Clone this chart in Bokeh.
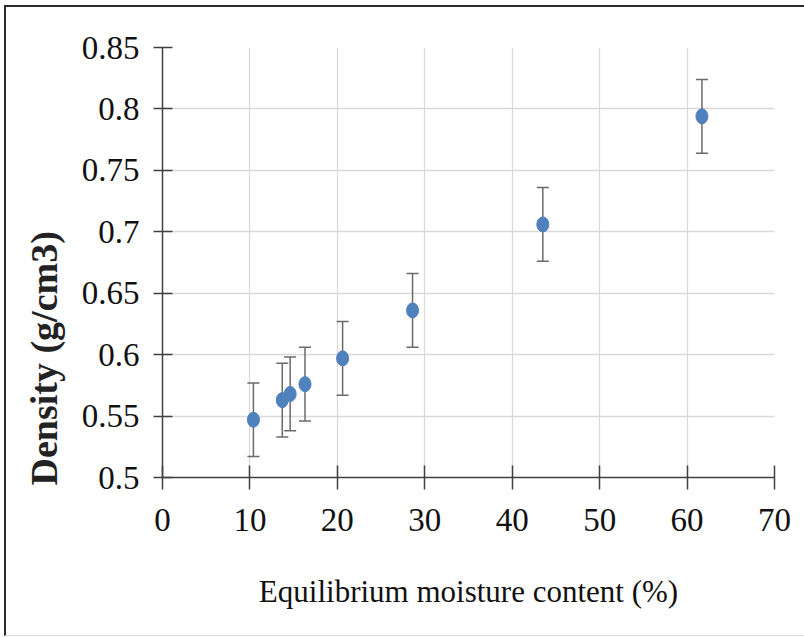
from bokeh.plotting import figure
from bokeh.models import ColumnDataSource, Whisker, TeeHead, FixedTicker, Title
from bokeh.embed import file_html
from bokeh.resources import INLINE

# data
moisture = [10.4, 13.7, 14.6, 16.3, 20.6, 28.6, 43.5, 61.7]
density = [0.547, 0.563, 0.568, 0.576, 0.597, 0.636, 0.706, 0.794]
err = [0.03, 0.03, 0.03, 0.03, 0.03, 0.03, 0.03, 0.03]
x_ticks = [0, 10, 20, 30, 40, 50, 60, 70]
y_ticks = [0.5, 0.55, 0.6, 0.65, 0.7, 0.75, 0.8, 0.85]
y_tick_labels = ["0.5", "0.55", "0.6", "0.65", "0.7", "0.75", "0.8", "0.85"]

src = ColumnDataSource(dict(
    x=moisture, y=density,
    lo=[d - e for d, e in zip(density, err)],
    hi=[d + e for d, e in zip(density, err)],
))

FONT = "Liberation Serif"

p = figure(width=798, height=628, frame_width=612, frame_height=430,
           min_border_left=155, min_border_right=31, min_border_top=40, min_border_bottom=158,
           x_range=(0, 70), y_range=(0.5, 0.85),
           output_backend="svg", toolbar_location=None)
p.styles = {"margin-left": "4px", "margin-top": "5px",
            "border-left": "2px solid #2b2b2b", "border-top": "2px solid #2b2b2b",
            "border-bottom": "1px solid #dcdcdc"}
p.outline_line_color = None

p.xgrid.ticker = FixedTicker(ticks=x_ticks)
p.ygrid.ticker = FixedTicker(ticks=y_ticks)
p.xgrid.grid_line_color = "#d9d9d9"
p.ygrid.grid_line_color = "#d9d9d9"
p.xgrid.grid_line_width = 1.3
p.ygrid.grid_line_width = 1.3

for ax in (p.xaxis[0], p.yaxis[0]):
    ax.axis_line_color = "#404040"
    ax.axis_line_width = 1.5
    ax.major_tick_line_color = "#404040"
    ax.major_tick_line_width = 1.5
    ax.minor_tick_line_color = None
    ax.major_label_text_font = FONT
    ax.major_label_text_font_size = "33px"
    ax.major_label_text_color = "#111111"

p.xaxis.ticker = FixedTicker(ticks=x_ticks)
p.yaxis.ticker = FixedTicker(ticks=y_ticks)
p.yaxis.major_label_overrides = {t: s for t, s in zip(y_ticks, y_tick_labels)}
p.xaxis.major_tick_in = 12
p.xaxis.major_tick_out = 12
p.yaxis.major_tick_in = 10
p.yaxis.major_tick_out = 9
p.xaxis.major_label_standoff = 19
p.yaxis.major_label_standoff = 14

p.xaxis.axis_label = "Equilibrium moisture content (%)"
p.xaxis.axis_label_text_font = FONT
p.xaxis.axis_label_text_font_style = "normal"
p.xaxis.axis_label_text_font_size = "31px"
p.xaxis.axis_label_text_color = "#111111"
p.xaxis.axis_label_standoff = 40

ytitle = Title(text="Density (g/cm3)", align="left", offset=-8, standoff=28,
               text_font=FONT, text_font_style="bold", text_font_size="38px",
               text_color="#222222")
p.add_layout(ytitle, "left")

wh = Whisker(source=src, base="x", lower="lo", upper="hi", dimension="height",
             line_color="#6a6a6a", line_width=1.5,
             upper_head=TeeHead(size=12, line_color="#6a6a6a", line_width=1.5),
             lower_head=TeeHead(size=12, line_color="#6a6a6a", line_width=1.5))
p.add_layout(wh)

p.ellipse(x="x", y="y", width=12, height=15, width_units="screen", height_units="screen",
          source=src, fill_color="#4F81BD", line_color="#4F81BD")

open("out.html", "w").write(file_html(p, INLINE))
